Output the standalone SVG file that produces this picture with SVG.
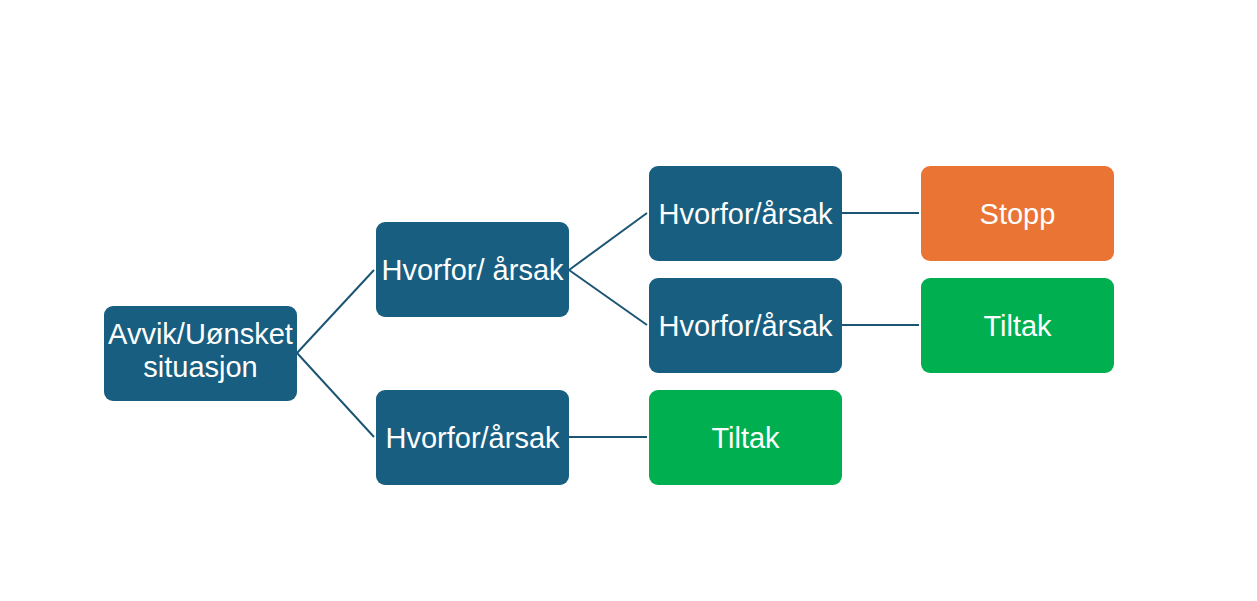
<svg xmlns="http://www.w3.org/2000/svg" width="1257" height="601" viewBox="0 0 1257 601">
<style>
.blue{fill:#175E80}
.orange{fill:#EA7434}
.green{fill:#00B050}
.t{font-family:"Liberation Sans",Arial,sans-serif;font-size:29px;fill:#ffffff;text-anchor:middle}
.c{stroke:#1B5573;stroke-width:2;fill:none}
</style>
<rect width="1257" height="601" fill="#ffffff"/>
<g id="connectors">
<line class="c" x1="297" y1="353" x2="374" y2="270"/>
<line class="c" x1="297" y1="353" x2="374" y2="437"/>
<line class="c" x1="569" y1="270" x2="647" y2="213"/>
<line class="c" x1="569" y1="270" x2="647" y2="325"/>
<line class="c" x1="842" y1="213" x2="919" y2="213"/>
<line class="c" x1="842" y1="325" x2="919" y2="325"/>
<line class="c" x1="569" y1="437" x2="647" y2="437"/>
</g>
<g id="root"><rect class="blue" x="104" y="306" width="193" height="95" rx="9"/><text class="t" x="200.5" y="344">Avvik/Uønsket</text><text class="t" x="200.5" y="377">situasjon</text></g>
<g id="why1"><rect class="blue" x="376" y="222" width="193" height="95" rx="9"/><text class="t" x="472.5" y="280">Hvorfor/ årsak</text></g>
<g id="why2"><rect class="blue" x="376" y="390" width="193" height="95" rx="9"/><text class="t" x="472.5" y="448">Hvorfor/årsak</text></g>
<g id="why11"><rect class="blue" x="649" y="166" width="193" height="95" rx="9"/><text class="t" x="745.5" y="224">Hvorfor/årsak</text></g>
<g id="why12"><rect class="blue" x="649" y="278" width="193" height="95" rx="9"/><text class="t" x="745.5" y="336">Hvorfor/årsak</text></g>
<g id="tiltak2"><rect class="green" x="649" y="390" width="193" height="95" rx="9"/><text class="t" x="745.5" y="448">Tiltak</text></g>
<g id="stopp"><rect class="orange" x="921" y="166" width="193" height="95" rx="9"/><text class="t" x="1017.5" y="224">Stopp</text></g>
<g id="tiltak1"><rect class="green" x="921" y="278" width="193" height="95" rx="9"/><text class="t" x="1017.5" y="336">Tiltak</text></g>
</svg>
